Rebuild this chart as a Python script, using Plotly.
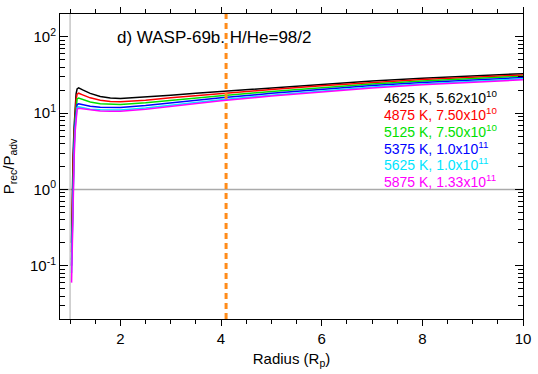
import plotly.graph_objects as go

# ---- data ----
radius = [1.03, 1.045, 1.06, 1.08, 1.10, 1.12, 1.14, 1.17, 1.25, 1.4, 1.6, 1.8, 2.0,
          2.5, 3.0, 3.5, 4.0, 5.0, 6.0, 7.0, 8.0, 9.0, 10.0]

ratio_4625 = [0.20, 1.0, 2.8, 6.5, 12.0, 18.0, 20.8, 21.5, 20.2, 18.2, 16.6, 15.8, 15.6,
              16.2, 17.2, 18.3, 19.3, 21.5, 24.0, 26.4, 28.7, 30.9, 33.0]
ratio_4875 = [0.15, 0.70, 2.0, 5.0, 9.5, 15.0, 17.8, 18.3, 17.4, 15.9, 14.8, 14.2, 14.1,
              14.8, 15.9, 17.0, 18.1, 20.4, 22.9, 25.3, 27.6, 29.7, 31.7]
ratio_5125 = [0.12, 0.55, 1.6, 4.2, 8.2, 13.0, 15.4, 15.8, 15.1, 14.0, 13.3, 13.0, 13.0,
              13.7, 14.8, 15.9, 17.0, 19.3, 21.8, 24.2, 26.5, 28.6, 30.5]
ratio_5375 = [0.10, 0.45, 1.3, 3.5, 7.2, 11.5, 13.0, 13.3, 12.9, 12.3, 12.0, 11.9, 11.9,
              12.6, 13.7, 14.8, 15.9, 18.2, 20.6, 23.0, 25.3, 27.4, 29.3]
ratio_5625 = [0.08, 0.35, 1.05, 3.0, 6.4, 10.4, 11.9, 12.1, 11.8, 11.3, 11.1, 11.0, 11.0,
              11.7, 12.8, 13.9, 15.0, 17.2, 19.6, 22.0, 24.2, 26.3, 28.2]
ratio_5875 = [0.06, 0.25, 0.8, 2.5, 5.6, 9.5, 11.3, 11.6, 11.4, 11.0, 10.7, 10.6, 10.6,
              11.3, 12.4, 13.5, 14.6, 16.8, 19.1, 21.4, 23.6, 25.6, 27.4]

series = [ratio_4625, ratio_4875, ratio_5125, ratio_5375, ratio_5625, ratio_5875]
colors = ["#000000", "#ff0000", "#00e000", "#0000ff", "#00e5ff", "#ff00ff"]
labels = ["4625 K, 5.62x10<sup>10</sup>", "4875 K, 7.50x10<sup>10</sup>",
          "5125 K, 7.50x10<sup>10</sup>", "5375 K, 1.0x10<sup>11</sup>",
          "5625 K, 1.0x10<sup>11</sup>", "5875 K, 1.33x10<sup>11</sup>"]

y_tick_vals = [0.1, 1, 10, 100]
y_tick_text = ["10<sup>-1</sup>", "10<sup>0</sup>", "10<sup>1</sup>", "10<sup>2</sup>"]
x_dashed = 4.1
title_text = "d) WASP-69b. H/He=98/2"

FONT = "Liberation Sans, Arial, Helvetica, sans-serif"

fig = go.Figure()

# reference lines
fig.add_shape(type="line", xref="x", yref="paper", x0=1.0, x1=1.0, y0=0, y1=1,
              line=dict(color="#aaaaaa", width=1), layer="below")
fig.add_shape(type="line", xref="paper", yref="y", x0=0, x1=1, y0=1, y1=1,
              line=dict(color="#aaaaaa", width=1.5), layer="below")

for ys, c in zip(series, colors):
    fig.add_trace(go.Scatter(x=radius, y=ys, mode="lines",
                             line=dict(color=c, width=1.5), showlegend=False))

fig.add_shape(type="line", xref="x", yref="paper", x0=x_dashed, x1=x_dashed, y0=0, y1=1,
              line=dict(color="#ff8c1a", width=3, dash="6px,4px"))

minor_y = []
for dec in [0.01, 0.1, 1, 10, 100]:
    for m in range(2, 10):
        v = m * dec
        if 0.02 <= v <= 200:
            minor_y.append(v)

fig.update_xaxes(range=[0.8, 10], showgrid=False, zeroline=False,
                 showline=True, linecolor="black", linewidth=1, mirror="allticks",
                 ticks="outside", ticklen=6, tickcolor="black", tickwidth=1,
                 tick0=0, dtick=2,
                 minor=dict(ticks="outside", ticklen=4, dtick=0.5, tick0=0, tickcolor="black"),
                 tickfont=dict(family=FONT, size=15, color="black"),
                 title=dict(text="Radius (R<sub>p</sub>)", font=dict(family=FONT, size=15, color="black"),
                            standoff=7))
fig.update_yaxes(type="log", range=[-1.699, 2.301], showgrid=False, zeroline=False,
                 showline=True, linecolor="black", linewidth=1, mirror="allticks",
                 ticks="inside", ticklen=8, tickcolor="black", tickwidth=1,
                 tickmode="array", tickvals=y_tick_vals, ticktext=y_tick_text,
                 minor=dict(ticks="inside", ticklen=5, tickmode="array", tickvals=minor_y,
                            tickcolor="black"),
                 tickfont=dict(family=FONT, size=15, color="black"),
                 title=dict(text="P<sub>rec</sub>/P<sub>adv</sub>", font=dict(family=FONT, size=15, color="black"),
                            standoff=12))

fig.add_annotation(xref="paper", yref="paper", x=(116 - 60) / 469, y=(319 - 31) / 312,
                   xanchor="left", yanchor="middle", showarrow=False,
                   text=title_text, font=dict(family=FONT, size=17, color="black"))

for i, (lab, c) in enumerate(zip(labels, colors)):
    py = 92 + 17.2 * i
    fig.add_annotation(xref="paper", yref="paper", x=(386 - 60) / 469, y=(319 - py) / 312,
                       xanchor="left", yanchor="middle", showarrow=False,
                       text=lab, font=dict(family=FONT, size=14, color=c))

fig.update_layout(width=538, height=374, margin=dict(l=60, r=9, t=7, b=55),
                  paper_bgcolor="white", plot_bgcolor="white",
                  font=dict(family=FONT, color="black"))

fig.write_html("out.html", config={"displayModeBar": False},
               post_script="document.body.style.margin='0';")
